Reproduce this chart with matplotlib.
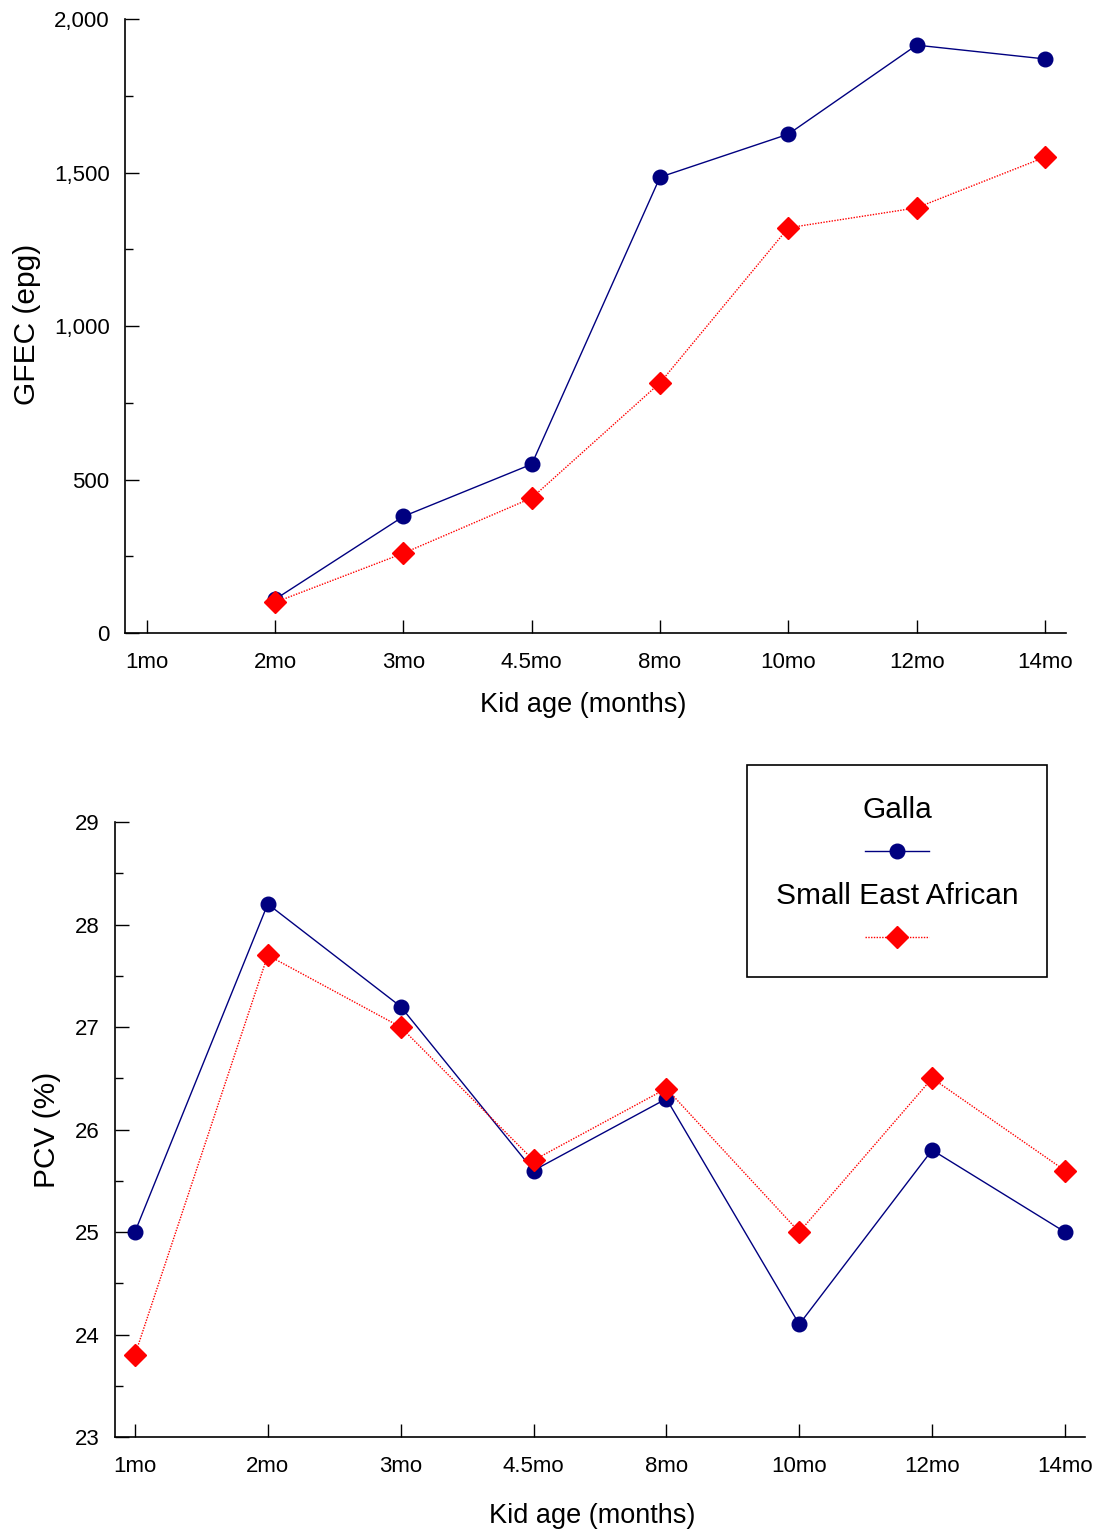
import matplotlib
matplotlib.use("Agg")
import matplotlib.pyplot as plt
from matplotlib.lines import Line2D
from matplotlib.patches import Rectangle
from matplotlib.ticker import MultipleLocator, FuncFormatter

plt.rcParams['font.family'] = ['Liberation Sans', 'DejaVu Sans']

# data
ages = ["1mo", "2mo", "3mo", "4.5mo", "8mo", "10mo", "12mo", "14mo"]
gfec_galla = [None, 110, 380, 550, 1485, 1625, 1915, 1870]
gfec_sea = [None, 100, 260, 440, 815, 1320, 1385, 1550]
pcv_galla = [25.0, 28.2, 27.2, 25.6, 26.3, 24.1, 25.8, 25.0]
pcv_sea = [23.8, 27.7, 27.0, 25.7, 26.4, 25.0, 26.5, 25.6]
breeds = ["Galla", "Small East African"]

galla_style = dict(color="#000080", lw=1.0, ls="-", marker="o", ms=10.5,
                   mfc="#000080", mec="#000080")
sea_style = dict(color="#ff0000", lw=1.0, ls=(0, (1, 1)), marker="D", ms=11.5,
                 mfc="#ff0000", mec="#ff0000")

fig = plt.figure(figsize=(10.98, 15.35), dpi=100)
ax1 = fig.add_axes([0.1138, 0.5876, 0.857, 0.4])
ax2 = fig.add_axes([0.1047, 0.0638, 0.8834, 0.4007])


def style_axis(ax, xlim):
    for s in ["top", "right"]:
        ax.spines[s].set_visible(False)
    for s in ["left", "bottom"]:
        ax.spines[s].set_linewidth(1.2)
    ax.set_xlim(*xlim)
    ax.set_xticks(range(len(ages)))
    ax.set_xticklabels(ages)
    ax.tick_params(axis="x", direction="in", length=9.5, width=1, pad=13.5,
                   labelsize=16)
    ax.tick_params(axis="y", which="major", direction="in", length=10,
                   width=1, pad=11, labelsize=16)
    ax.tick_params(axis="y", which="minor", direction="in", length=5.5,
                   width=1)


x = list(range(len(ages)))

# top: GFEC (no 1mo sample)
xs_g = [i for i, v in zip(x, gfec_galla) if v is not None]
ys_g = [v for v in gfec_galla if v is not None]
xs_s = [i for i, v in zip(x, gfec_sea) if v is not None]
ys_s = [v for v in gfec_sea if v is not None]
ax1.plot(xs_g, ys_g, **galla_style, zorder=3)
ax1.plot(xs_s, ys_s, **sea_style, zorder=4)
style_axis(ax1, (-0.171, 7.164))
ax1.set_ylim(0, 2000)
ax1.yaxis.set_major_locator(MultipleLocator(500))
ax1.yaxis.set_minor_locator(MultipleLocator(250))
ax1.yaxis.set_major_formatter(FuncFormatter(lambda v, p: f"{int(v):,}"))
ax1.set_ylabel("GFEC (epg)", fontsize=21.5)
ax1.yaxis.set_label_coords(-0.104, 0.502)
ax1.yaxis.label.set_va("center")
ax1.set_xlabel("Kid age (months)", fontsize=19.5)
ax1.xaxis.set_label_coords(0.487, -0.117)
ax1.xaxis.label.set_va("center")

# bottom: PCV
ax2.plot(x, pcv_galla, **galla_style, zorder=3)
ax2.plot(x, pcv_sea, **sea_style, zorder=4)
style_axis(ax2, (-0.15, 7.15))
ax2.set_ylim(23, 29)
ax2.yaxis.set_major_locator(MultipleLocator(1))
ax2.yaxis.set_minor_locator(MultipleLocator(0.5))
ax2.set_ylabel("PCV (%)", fontsize=21.5)
ax2.yaxis.set_label_coords(-0.070, 0.499)
ax2.yaxis.label.set_va("center")
ax2.set_xlabel("Kid age (months)", fontsize=19.5)
ax2.xaxis.set_label_coords(0.492, -0.128)
ax2.xaxis.label.set_va("center")

# legend box drawn in figure coordinates
fig.patches.append(Rectangle((0.6803, 0.3635), 0.2733, 0.1381,
                             transform=fig.transFigure, fill=False,
                             ec="black", lw=1.2))
fig.text(0.817, 0.4723, breeds[0], fontsize=21.5, ha="center", va="center")
fig.text(0.817, 0.4163, breeds[1], fontsize=21.5, ha="center", va="center")
for yy, st in [(0.4456, galla_style), (0.3896, sea_style)]:
    fig.lines.append(Line2D([0.788, 0.846], [yy, yy], transform=fig.transFigure,
                            color=st["color"], lw=st["lw"], ls=st["ls"]))
    fig.lines.append(Line2D([0.817], [yy], transform=fig.transFigure,
                            ls="none", marker=st["marker"], ms=st["ms"],
                            mfc=st["mfc"], mec=st["mec"]))

fig.savefig("out.png", dpi=100)
